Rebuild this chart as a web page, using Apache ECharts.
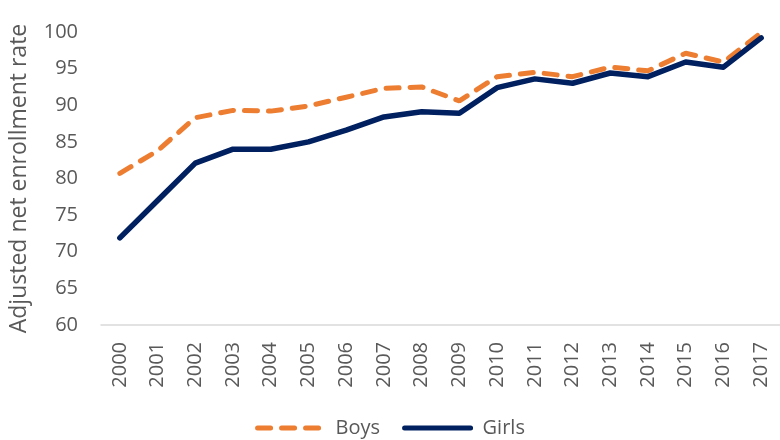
<!DOCTYPE html>
<html lang="en">
<head>
    <meta charset="UTF-8">
    <script src="https://cdn.jsdelivr.net/npm/echarts@6/dist/echarts.min.js"></script>
    <title>Adjusted net enrollment rate</title>
</head>
<body style="margin:0">
<div id="main" style="width: 780px;height: 440px"></div>
<script type="text/javascript">
    // data
    var years = ['2000', '2001', '2002', '2003', '2004', '2005', '2006', '2007', '2008',
        '2009', '2010', '2011', '2012', '2013', '2014', '2015', '2016', '2017'];
    var boys = [80.7, 83.8, 88.3, 89.3, 89.2, 89.9, 91.1, 92.3, 92.5,
        90.6, 93.9, 94.5, 93.9, 95.2, 94.7, 97.1, 95.9, 99.9];
    var girls = [71.9, 77.0, 82.1, 84.0, 84.0, 85.0, 86.6, 88.4, 89.1,
        88.9, 92.4, 93.6, 93.0, 94.4, 93.9, 95.9, 95.2, 99.2];

    var font = 'Open Sans';
    var grey = '#595959';

    var myChart = echarts.init(document.getElementById("main"));

    myChart.setOption({
        animation: false,
        grid: {left: 95, right: -6, top: 32, bottom: 115},
        legend: {
            top: 413,
            left: 'center',
            itemWidth: 66,
            itemHeight: 10,
            itemGap: 22,
            itemStyle: {opacity: 0},
            lineStyle: {width: 5},
            textStyle: {fontFamily: font, fontSize: 20, color: grey, padding: [0, 0, 0, 7]},
            data: ['Boys', 'Girls']
        },
        xAxis: {
            type: 'category',
            data: years,
            boundaryGap: true,
            axisLine: {lineStyle: {color: '#d9d9d9', width: 1.5}},
            axisTick: {show: false},
            axisLabel: {
                rotate: 90,
                margin: 17,
                fontFamily: font,
                fontSize: 20,
                color: grey
            }
        },
        yAxis: {
            type: 'value',
            min: 60,
            max: 100,
            interval: 5,
            name: 'Adjusted net enrollment rate',
            nameLocation: 'middle',
            nameGap: 70,
            nameTextStyle: {fontFamily: font, fontSize: 23, color: grey},
            axisLine: {show: false},
            axisTick: {show: false},
            splitLine: {show: false},
            axisLabel: {margin: 23, fontFamily: font, fontSize: 20, color: grey}
        },
        series: [
            {
                name: 'Boys',
                type: 'line',
                data: boys,
                symbol: 'none',
                color: '#ED7D31',
                lineStyle: {width: 5, type: [13, 11], cap: 'round', color: '#ED7D31'}
            },
            {
                name: 'Girls',
                type: 'line',
                data: girls,
                symbol: 'none',
                color: '#002060',
                lineStyle: {width: 5.5, cap: 'round', join: 'round', color: '#002060'}
            }
        ]
    });
</script>
</body>
</html>
